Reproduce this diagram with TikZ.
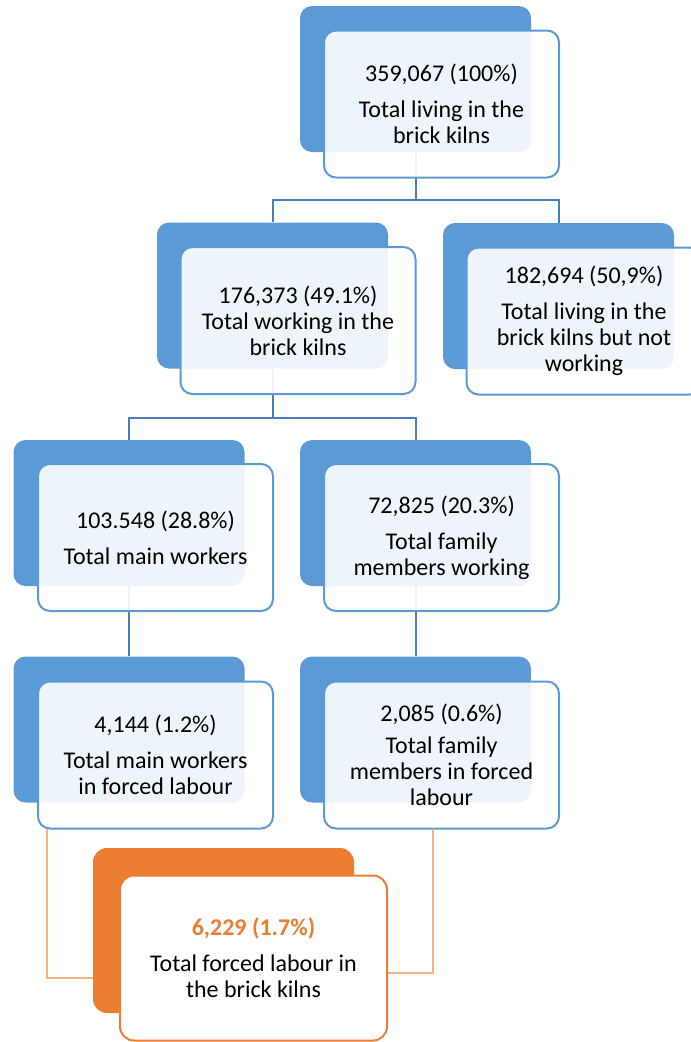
\documentclass[tikz,border=0pt]{standalone}
\usepackage{fontspec}
\setmainfont{Carlito}
\definecolor{bl}{HTML}{5B9BD5}
\definecolor{cn}{HTML}{4A7EBB}
\definecolor{orn}{HTML}{ED7D31}
\definecolor{lor}{HTML}{F4B183}
\begin{document}
\begin{tikzpicture}[x=1pt,y=-1pt,
 back/.style={fill=bl, rounded corners=12pt, minimum width=231pt, minimum height=146pt, inner sep=0pt},
 front/.style={draw=bl, line width=2pt, fill=white, fill opacity=0.9, rounded corners=12pt, minimum width=235pt, minimum height=147pt, inner sep=0pt},
 txt/.style={align=center, inner sep=0pt, font=\fontsize{24}{26}\selectfont},
 oback/.style={fill=orn, rounded corners=14pt, minimum width=261pt, minimum height=165pt, inner sep=0pt},
 ofront/.style={draw=orn, line width=2pt, fill=white, rounded corners=14pt, minimum width=267pt, minimum height=165pt, inner sep=0pt},
 conn/.style={draw=cn, line width=2pt},
 oconn/.style={draw=lor, line width=1.5pt}]
\useasboundingbox (0,0) rectangle (691,1042);
% back boxes
\node[back] (tb) at (415.5,79) {};
\node[back] (l2lb) at (272.5,295.5) {};
\node[back] (l2rb) at (558.5,296) {};
\node[back] (l3lb) at (129,513) {};
\node[back] (l3rb) at (415.5,513) {};
\node[back] (l4lb) at (129,729.5) {};
\node[back] (l4rb) at (415.5,729.5) {};
% connectors
\coordinate (j1) at (415.5,200);
\coordinate (j2) at (272.5,418);
\draw[conn] (tb.south) -- (j1) -| (l2lb.north);
\draw[conn] (j1) -| (l2rb.north);
\draw[conn] (l2lb.south) -- (j2) -| (l3lb.north);
\draw[conn] (j2) -| (l3rb.north);
\draw[conn] (l3lb.south) -- (l4lb.north);
\draw[conn] (l3rb.south) -- (l4rb.north);
% front boxes
\node[front] (tf) at (441.5,104) {};
\node[front] (l2lf) at (298,320.5) {};
\node[front] (l2rf) at (584,321) {};
\node[front] (l3lf) at (155.5,537.5) {};
\node[front] (l3rf) at (441.5,537.5) {};
\node[front] (l4lf) at (155.5,755) {};
\node[front] (l4rf) at (441.5,755) {};
% texts
\node[txt] (tt) at (tf.center) {359,067 (100\%)\\[10pt]Total living in the\\brick kilns};
\node[txt] (l2lt) at (l2lf.center) {176,373 (49.1\%)\\Total working in the\\brick kilns};
\node[txt] (l2rt) at (l2rf.center) {182,694 (50,9\%)\\[10pt]Total living in the\\brick kilns but not\\working};
\node[txt] (l3lt) at (l3lf.center) {103.548 (28.8\%)\\[10pt]Total main workers};
\node[txt] (l3rt) at (l3rf.center) {72,825 (20.3\%)\\[10pt]Total family\\members working};
\node[txt] (l4lt) at (l4lf.center) {4,144 (1.2\%)\\[10pt]Total main workers\\in forced labour};
\node[txt] (l4rt) at (l4rf.center) {2,085 (0.6\%)\\[6pt]Total family\\members in forced\\labour};
% orange
\node[oback] (ob) at (223.5,930.5) {};
\coordinate (ol1) at (47,829);
\coordinate (ol2) at (93,978);
\coordinate (or1) at (433,829);
\coordinate (or2) at (387,973);
\draw[oconn] (ol1) |- (ol2);
\draw[oconn] (or1) |- (or2);
\node[ofront] (of) at (253.5,958) {};
\node[txt] (ot) at (of.center) {{\bfseries\color{orn}6,229 (1.7\%)}\\[10pt]Total forced labour in\\the brick kilns};
\end{tikzpicture}
\end{document}
